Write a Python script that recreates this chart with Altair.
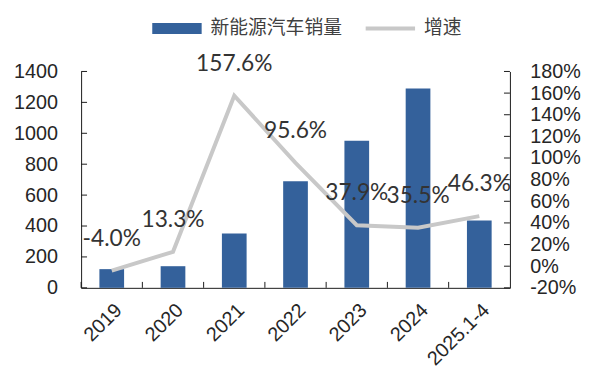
import altair as alt
import pandas as pd

years = ["2019", "2020", "2021", "2022", "2023", "2024", "2025.1-4"]
sales = [121, 140, 352, 690, 952, 1290, 435]
growth = [-4.0, 13.3, 157.6, 95.6, 37.9, 35.5, 46.3]
growth_labels = ["-4.0%", "13.3%", "157.6%", "95.6%", "37.9%", "35.5%", "46.3%"]
left_ticks = [0, 200, 400, 600, 800, 1000, 1200, 1400]
right_ticks = [-20, 0, 20, 40, 60, 80, 100, 120, 140, 160, 180]
bar_name = "新能源汽车销量"
line_name = "增速"

W, H = 434, 219
BLUE = "#34619B"
GRAY = "#C8C8C8"
AXC = "#1a1a1a"
TXT = "#262626"
SYM = "M-4.545,-1H4.545V1H-4.545Z"
SYM_LINE = "M-4.545,0H4.545"

df = pd.DataFrame({"year": years, "sales": sales, "growth": growth,
                   "label": growth_labels, "s1": bar_name, "s2": line_name})
lt = pd.DataFrame({"sales": left_ticks})
rt = pd.DataFrame({"growth": right_ticks})

xaxis = alt.Axis(title=None, labelAngle=-45, labelAlign="right", labelBaseline="top",
                 ticks=False, domainColor=AXC, labelFont="Liberation Sans",
                 labelFontSize=20, labelColor=TXT, labelPadding=12)
xscale = alt.Scale(paddingInner=0, paddingOuter=0)
x_enc = alt.X("year:N", sort=years, scale=xscale, axis=xaxis)
x_edge = alt.X("year:N", sort=years, scale=xscale, axis=xaxis, bandPosition=0)

yl = alt.Y("sales:Q", scale=alt.Scale(domain=[0, 1400], nice=False),
           axis=alt.Axis(title=None, values=left_ticks, ticks=False, grid=False,
                         domainColor=AXC, labelFont="Liberation Sans", labelFontSize=20,
                         labelColor=TXT, labelPadding=24, format="d"))
yr = alt.Y("growth:Q", scale=alt.Scale(domain=[-20, 180], nice=False),
           axis=alt.Axis(title=None, orient="right", values=right_ticks, ticks=False,
                         grid=False, domainColor=AXC, labelFont="Liberation Sans",
                         labelFontSize=20, labelColor=TXT, labelPadding=20,
                         labelExpr="datum.value + '%'"))

bars = alt.Chart(df).mark_bar(size=25).encode(
    x=x_enc, y=yl,
    color=alt.Color("s1:N", scale=alt.Scale(domain=[bar_name], range=[BLUE]),
                    legend=alt.Legend(title=None, orient="none", legendX=87.5, legendY=-53,
                                      padding=0, symbolType=SYM,
                                      symbolSize=121, symbolStrokeWidth=0,
                                      labelFont="Noto Sans CJK SC", labelFontSize=19,
                                      labelColor="#404040", labelOffset=24.5)))
xticks = alt.Chart(df).mark_rule(color=AXC).encode(
    x=x_edge, y=alt.value(H), y2=alt.value(H - 6))
lticks = alt.Chart(lt).mark_rule(color=AXC).encode(
    y=yl, x=alt.value(0), x2=alt.value(6))

line = alt.Chart(df).mark_line(strokeWidth=4).encode(
    x=x_enc, y=yr,
    stroke=alt.Stroke("s2:N", scale=alt.Scale(domain=[line_name], range=[GRAY]),
                      legend=alt.Legend(title=None, orient="none", legendX=303.5, legendY=-53,
                                        padding=0, symbolType=SYM_LINE, symbolSize=121,
                                        symbolStrokeWidth=4,
                                        labelFont="Noto Sans CJK SC", labelFontSize=19,
                                        labelColor="#404040", labelOffset=24.5)))
labels = alt.Chart(df).mark_text(dy=-32, font="Lato", fontSize=23, color="#333333").encode(
    x=x_enc, y=yr, text="label:N")
rticks = alt.Chart(rt).mark_rule(color=AXC).encode(
    y=yr, x=alt.value(W - 6), x2=alt.value(W))

left = alt.layer(bars, xticks, lticks)
right = alt.layer(line, labels, rticks)

chart = alt.layer(left, right).resolve_scale(y="independent").properties(
    width=W, height=H, padding={"left": 5, "top": 9, "right": 5, "bottom": 5}
).configure_view(stroke=None)

chart.save("out.html", embed_options={"renderer": "svg", "actions": False})
